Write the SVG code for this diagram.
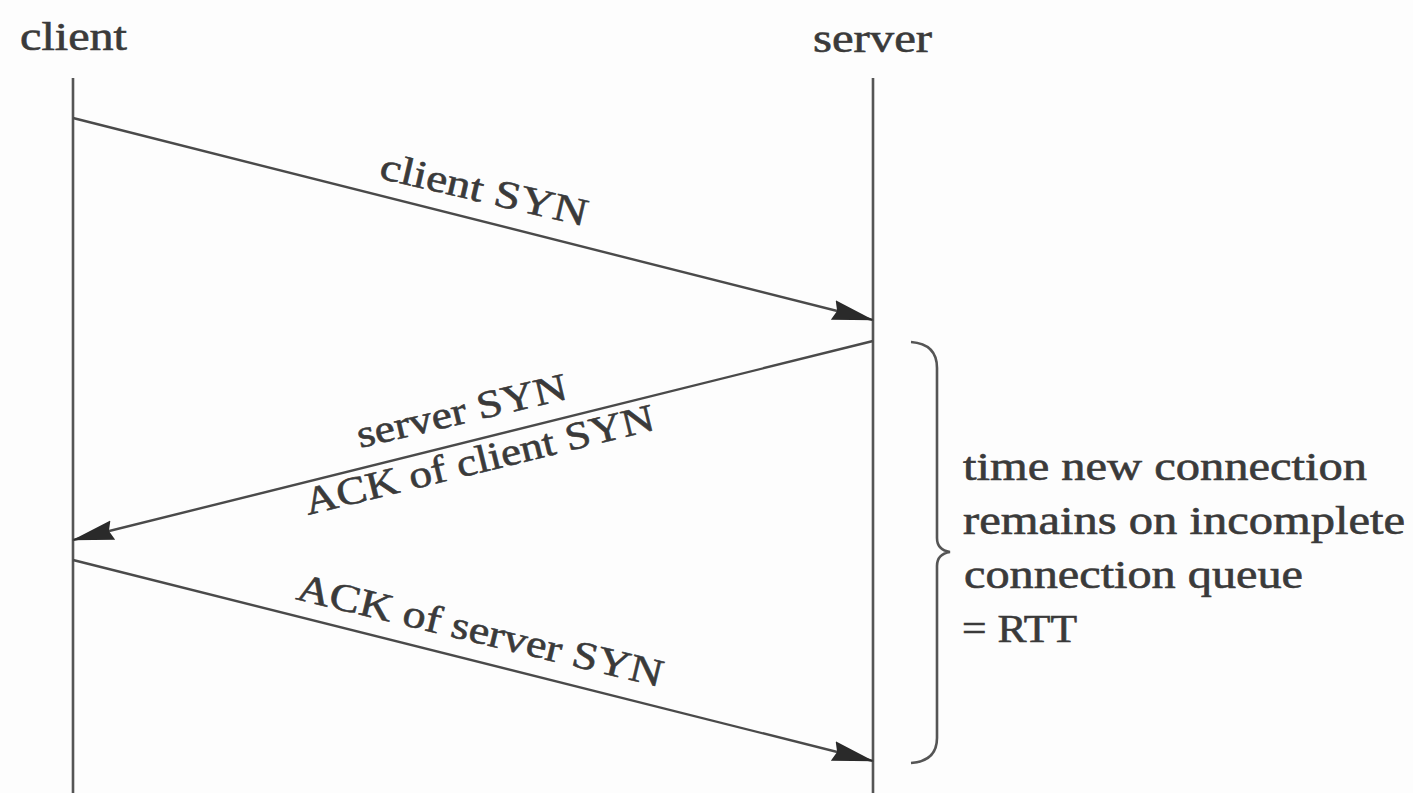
<svg xmlns="http://www.w3.org/2000/svg" width="1413" height="793" viewBox="0 0 1413 793">
<style>
.t{font-family:"Liberation Serif","Times New Roman",serif;font-size:39px;fill:#3a3a3a;stroke:#3a3a3a;stroke-width:0.6}
.ln{stroke:#555;stroke-width:2.6;fill:none}
.ar{stroke:#4a4a4a;stroke-width:2.4;fill:none}
</style>
<defs>
<marker id="ah" markerUnits="userSpaceOnUse" markerWidth="42" markerHeight="22" refX="41" refY="11" orient="auto">
<path d="M0,1 L42,11 L0,21 L4,11 z" fill="#2a2a2a"/>
</marker>
</defs>
<rect width="1413" height="793" fill="#fdfdfd"/>
<g id="client">
<text class="t" x="20" y="50" textLength="107" lengthAdjust="spacingAndGlyphs">client</text>
<line class="ln" x1="73" y1="78" x2="73" y2="793"/>
</g>
<g id="server">
<text class="t" x="813" y="52" textLength="119" lengthAdjust="spacingAndGlyphs">server</text>
<line class="ln" x1="873" y1="78" x2="873" y2="793"/>
</g>
<g id="connectors">
<line class="ar" x1="73" y1="118" x2="873" y2="320" marker-end="url(#ah)"/>
<line class="ar" x1="873" y1="341" x2="73" y2="540" marker-end="url(#ah)"/>
<line class="ar" x1="73" y1="560" x2="873" y2="761" marker-end="url(#ah)"/>
</g>
<g id="labels">
<text class="t" transform="translate(378,178) rotate(13.2)" textLength="212" lengthAdjust="spacingAndGlyphs">client SYN</text>
<text class="t" transform="translate(360,448) rotate(-13.3)" textLength="215" lengthAdjust="spacingAndGlyphs">server SYN</text>
<text class="t" transform="translate(308,515) rotate(-13.8)" textLength="359" lengthAdjust="spacingAndGlyphs">ACK of client SYN</text>
<text class="t" transform="translate(295,599) rotate(13.6)" textLength="375" lengthAdjust="spacingAndGlyphs">ACK of server SYN</text>
</g>
<g id="brace">
<path class="ln" d="M911,342 Q937,344 937,368 L937,538 Q937,550 950,552 Q937,554 937,566 L937,738 Q937,761 911,763"/>
<text class="t" x="963" y="480" textLength="404" lengthAdjust="spacingAndGlyphs">time new connection</text>
<text class="t" x="963" y="534" textLength="442" lengthAdjust="spacingAndGlyphs">remains on incomplete</text>
<text class="t" x="964" y="588" textLength="339" lengthAdjust="spacingAndGlyphs">connection queue</text>
<text class="t" x="962" y="642" textLength="115" lengthAdjust="spacingAndGlyphs">= RTT</text>
</g>
</svg>
